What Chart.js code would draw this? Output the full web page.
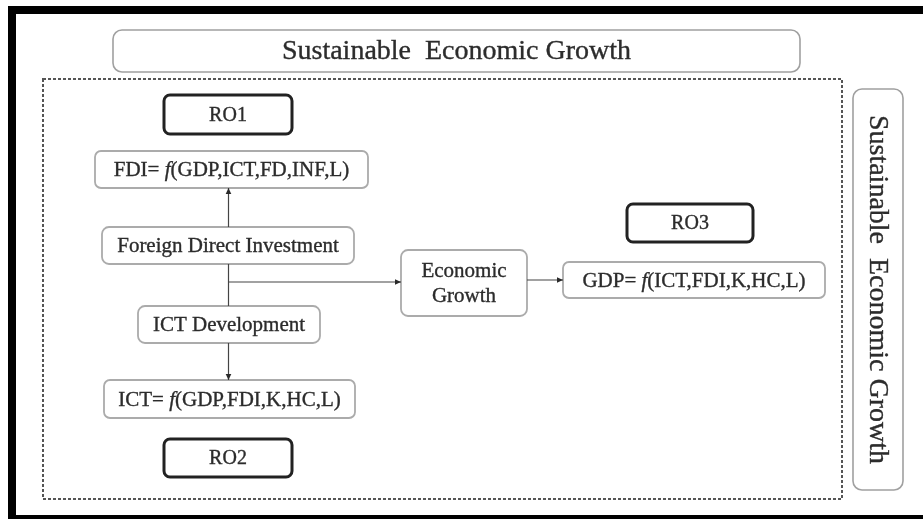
<!DOCTYPE html>
<html><head><meta charset="utf-8">
<script src="https://cdn.jsdelivr.net/npm/chart.js@4"></script>
<style>html,body{margin:0;padding:0;background:#fff}#wrap{width:923px;height:519px;position:relative}canvas{display:block}</style>
</head><body><div id="wrap"><canvas id="c" width="923" height="519"></canvas></div>
<script>
// ---- content (texts) ----
const nodeIds    = ['title','side','ro1','fdiEq','fdi','ict','ictEq','ro2','eg','ro3','gdpEq'];
const nodeLabels = ['Sustainable  Economic Growth','Sustainable  Economic Growth','RO1',
  'FDI= *f*(GDP,ICT,FD,INF,L)','Foreign Direct Investment','ICT Development',
  'ICT= *f*(GDP,FDI,K,HC,L)','RO2','Economic\nGrowth','RO3','GDP= *f*(ICT,FDI,K,HC,L)'];
const nodeKinds  = ['frame','frameV','ro','eq','var','var','eq','ro','var','ro','eq'];

// ---- layout (diagram units on 0..923 x 0..519 scales) ----
const layoutLeft   = [113, 853, 164,  95, 102, 138, 104, 164, 401, 627, 563];
const layoutTop    = [ 30,  89,  95, 151, 227, 306, 380, 439, 250, 204, 262];
const layoutRight  = [800, 903, 292, 368, 354, 320, 355, 292, 527, 753, 825];
const layoutBottom = [ 72, 490, 134, 188, 264, 343, 418, 477, 316, 242, 298];
const groupFrame = {x0:43, y0:79, x1:842, y1:499};
const branchY = 282;

const SERIF = '"Liberation Serif","Times New Roman",serif';
const styles = {
  frame:  {stroke:'#a0a0a0', lw:1.6, r:9, font:28},
  frameV: {stroke:'#a0a0a0', lw:1.6, r:9, font:28},
  ro:     {stroke:'#222222', lw:3,   r:6, font:20},
  eq:     {stroke:'#ababab', lw:1.8, r:6, font:21},
  var:    {stroke:'#ababab', lw:1.8, r:7, font:21}
};

function box(id){ const i = nodeIds.indexOf(id); return {l:layoutLeft[i],t:layoutTop[i],r:layoutRight[i],b:layoutBottom[i]}; }

const diagramPlugin = {
  id:'diagram',
  afterDatasetsDraw(chart){
    const ctx = chart.ctx, xs = chart.scales.x, ys = chart.scales.y;
    const X = v => xs.getPixelForValue(v), Y = v => ys.getPixelForValue(v);
    ctx.save();
    // outer black frame
    ctx.fillStyle = '#000';
    ctx.fillRect(X(8), Y(6), X(923)-X(8), Y(14)-Y(6));
    ctx.fillRect(X(8), Y(6), X(16)-X(8), Y(519)-Y(6));
    ctx.fillRect(X(8), Y(515), X(923)-X(8), Y(519)-Y(515));
    // dashed group frame
    ctx.strokeStyle = '#555'; ctx.lineWidth = 2; ctx.setLineDash([3,2]);
    ctx.strokeRect(X(groupFrame.x0), Y(groupFrame.y0), X(groupFrame.x1)-X(groupFrame.x0), Y(groupFrame.y1)-Y(groupFrame.y0));
    ctx.setLineDash([]);

    // boxes
    nodeIds.forEach((id,i)=>{
      const st = styles[nodeKinds[i]];
      const l=X(layoutLeft[i]), t=Y(layoutTop[i]), r=X(layoutRight[i]), b=Y(layoutBottom[i]);
      ctx.beginPath(); ctx.roundRect(l,t,r-l,b-t,st.r);
      ctx.fillStyle='#fff'; ctx.fill();
      ctx.strokeStyle = st.stroke; ctx.lineWidth = st.lw; ctx.stroke();
      const cx=(l+r)/2, cy=(t+b)/2;
      ctx.fillStyle = '#2c2c2c';
      if (nodeKinds[i]==='frameV'){
        ctx.save(); ctx.translate(cx,cy); ctx.rotate(Math.PI/2);
        drawRich(ctx, nodeLabels[i], 0, 1, st.font); ctx.restore();
      } else {
        const lines = nodeLabels[i].split('\n');
        const lh = st.font*1.2;
        lines.forEach((ln,k)=> drawRich(ctx, ln, cx, cy + (k-(lines.length-1)/2)*lh + 1, st.font));
      }
    });

    // connectors
    ctx.strokeStyle = '#444'; ctx.fillStyle='#2a2a2a'; ctx.lineWidth = 1.2;
    const fdi = box('fdi'), fdiEq = box('fdiEq'), ict = box('ict'), ictEq = box('ictEq'), eg = box('eg'), gdp = box('gdpEq');
    const tx = X(((fdi.l+fdi.r)/2 + (ict.l+ict.r)/2)/2);
    line(ctx, tx, Y(fdi.t), tx, Y(fdiEq.b)); arrow(ctx, tx, Y(fdiEq.b), 0, -1);
    line(ctx, tx, Y(fdi.b), tx, Y(ict.t));
    line(ctx, tx, Y(ict.b), tx, Y(ictEq.t)); arrow(ctx, tx, Y(ictEq.t), 0, 1);
    line(ctx, tx, Y(branchY), X(eg.l), Y(branchY)); arrow(ctx, X(eg.l), Y(branchY), 1, 0);
    const gy = Y((gdp.t+gdp.b)/2);
    line(ctx, X(eg.r), gy, X(gdp.l), gy); arrow(ctx, X(gdp.l), gy, 1, 0);
    ctx.restore();
  }
};
function line(ctx,x0,y0,x1,y1){ ctx.beginPath(); ctx.moveTo(x0,y0); ctx.lineTo(x1,y1); ctx.stroke(); }
function arrow(ctx,x,y,dx,dy){
  const L=6, W=2.8; ctx.beginPath();
  ctx.moveTo(x,y);
  ctx.lineTo(x-dx*L - dy*W, y-dy*L + dx*W);
  ctx.lineTo(x-dx*L + dy*W, y-dy*L - dx*W);
  ctx.closePath(); ctx.fill();
}
function drawRich(ctx, text, cx, cy, size){
  const parts = text.split('*').map((s,k)=>({s, it:k%2===1})).filter(p=>p.s.length);
  let total=0;
  parts.forEach(p=>{ ctx.font=(p.it?'italic ':'')+size+'px '+SERIF; p.w=ctx.measureText(p.s).width; total+=p.w; });
  let x = cx-total/2; ctx.textBaseline='middle'; ctx.textAlign='left';
  ctx.strokeStyle = ctx.fillStyle; ctx.lineWidth = 0.35;
  parts.forEach(p=>{ ctx.font=(p.it?'italic ':'')+size+'px '+SERIF; ctx.fillText(p.s,x,cy); ctx.strokeText(p.s,x,cy); x+=p.w; });
}

const centers = nodeIds.map((id,i)=>({x:(layoutLeft[i]+layoutRight[i])/2, y:(layoutTop[i]+layoutBottom[i])/2}));
new Chart(document.getElementById('c'), {
  type:'scatter',
  data:{datasets:[{data:centers, pointRadius:0, showLine:false}]},
  options:{
    responsive:false, animation:false, events:[],
    layout:{padding:0},
    plugins:{legend:{display:false}, tooltip:{enabled:false}},
    scales:{
      x:{type:'linear', min:0, max:923, display:false},
      y:{type:'linear', min:0, max:519, reverse:true, display:false}
    }
  },
  plugins:[diagramPlugin]
});
</script></body></html>
